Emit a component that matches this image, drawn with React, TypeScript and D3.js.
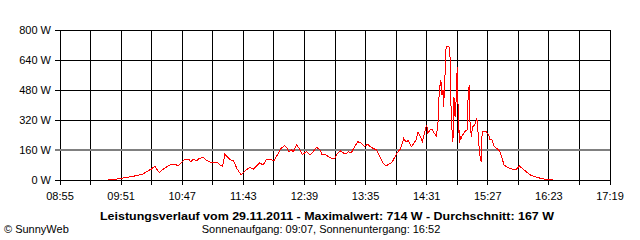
import React from "react";
import * as d3 from "d3";

const times: string[] = [
  "09:39","09:47","09:52","09:59","10:06","10:11","10:14","10:16","10:19","10:22",
  "10:24","10:26","10:28","10:31","10:34","10:37","10:41","10:43","10:46","10:49",
  "10:53","10:55","10:57","11:00","11:02","11:06","11:09","11:13","11:19","11:22",
  "11:24","11:26","11:29","11:32","11:34","11:37","11:41","11:42","11:45","11:49",
  "11:52","11:55","11:58","12:01","12:04","12:08","12:11","12:15","12:18","12:21",
  "12:23","12:25","12:27","12:29","12:31","12:32","12:35","12:37","12:41","12:44",
  "12:47","12:50","12:53","12:55","12:58","13:01","13:04","13:07","13:09","13:12",
  "13:14","13:17","13:19","13:22","13:25","13:28","13:31","13:34","13:37","13:39",
  "13:42","13:45","13:48","13:51","13:54","13:56","13:59","14:02","14:04","14:07",
  "14:10","14:12","14:14","14:17","14:21","14:23","14:26","14:27","14:29","14:31",
  "14:32","14:35","14:36","14:38","14:40","14:41","14:42","14:42","14:43","14:44",
  "14:45","14:46","14:46","14:47","14:48","14:48","14:49","14:51","14:52","14:52",
  "14:53","14:53","14:54","14:55","14:56","14:56","14:57","14:58","14:59","14:59",
  "15:00","15:01","15:01","15:02","15:03","15:05","15:06","15:08","15:09","15:10",
  "15:10","15:11","15:12","15:13","15:15","15:17","15:18","15:18","15:19","15:20",
  "15:21","15:21","15:22","15:25","15:28","15:29","15:30","15:31","15:33","15:35",
  "15:38","15:40","15:42","15:44","15:47","15:52","15:54","15:56","15:58","16:01",
  "16:04","16:07","16:10","16:13","16:17","16:19","16:27",
];

const watts: number[] = [
  3,5,10,17,24,32,44,50,59,75,
  55,40,50,64,74,84,84,75,92,110,
  110,96,112,102,112,121,107,94,96,78,
  72,137,119,104,103,62,27,32,50,68,
  57,75,92,80,107,110,101,142,172,183,
  170,151,160,151,178,187,160,137,151,133,
  151,174,164,137,137,124,116,116,139,155,
  146,139,151,146,178,204,196,178,192,178,
  169,160,124,89,75,84,92,124,146,165,
  222,202,210,178,210,255,222,204,249,295,
  252,272,272,249,233,287,347,418,495,533,
  453,480,391,444,587,658,711,714,702,690,
  604,444,284,201,373,444,338,427,604,551,
  347,196,267,213,231,249,258,267,444,507,
  382,284,231,284,293,329,276,262,178,124,
  95,178,258,261,240,213,220,213,178,169,
  155,116,80,71,62,53,62,75,65,50,
  36,23,20,12,8,5,4,
];

const xTickLabels: string[] = ["08:55","09:51","10:47","11:43","12:39","13:35","14:31","15:27","16:23","17:19"];
const yTicks: number[] = [0, 160, 320, 480, 640, 800];
const titleText = "Leistungsverlauf vom 29.11.2011 - Maximalwert: 714 W - Durchschnitt: 167 W";
const subtitleText = "Sonnenaufgang: 09:07, Sonnenuntergang: 16:52";
const creditText = "© SunnyWeb";

const toMin = (s: string) => {
  const [h, m] = s.split(":").map(Number);
  return h * 60 + m;
};

export default function App() {
  const startMin = toMin(xTickLabels[0]);
  const endMin = toMin(xTickLabels[xTickLabels.length - 1]);
  const x = d3.scaleLinear().domain([startMin, endMin]).range([60, 610]);
  const y = d3.scaleLinear().domain([0, 800]).range([180, 30]);
  const gridMins = d3.range(startMin, endMin + 1, 28);
  const data = times.map((t, i) => ({ t: toMin(t), v: watts[i] }));
  const line = d3
    .line<{ t: number; v: number }>()
    .x((d) => x(d.t))
    .y((d) => y(d.v));
  const font = "'Liberation Sans', Arial, sans-serif";
  return (
    <svg
      width={640}
      height={240}
      style={{ position: "absolute", left: 0, top: 0, background: "#fff" }}
      fontFamily={font}
    >
      <rect x={0} y={0} width={640} height={240} fill="#fff" />
      <g shapeRendering="crispEdges">
        {gridMins.map((m) => (
          <line key={"v" + m} x1={x(m)} x2={x(m)} y1={y(800)} y2={y(0) + 5} stroke="#000" strokeWidth={1} />
        ))}
        {yTicks.map((v) => (
          <line
            key={"h" + v}
            x1={x(startMin) - 5}
            x2={x(endMin)}
            y1={y(v)}
            y2={y(v)}
            stroke={v === 160 ? "#808080" : "#000"}
            strokeWidth={v === 160 ? 2 : 1}
          />
        ))}
      </g>
      <path d={line(data) || ""} fill="none" stroke="#ff0000" strokeWidth={1} shapeRendering="crispEdges" />
      {yTicks.map((v) => (
        <text key={"yl" + v} x={51} y={y(v)} dy="0.35em" textAnchor="end" fontSize={11} fill="#000">
          {v + " W"}
        </text>
      ))}
      {xTickLabels.map((l) => (
        <text key={"xl" + l} x={x(toMin(l))} y={200} textAnchor="middle" fontSize={11} fill="#000">
          {l}
        </text>
      ))}
      <text x={327} y={220} textAnchor="middle" fontSize={11.5} fontWeight="bold" fill="#000" textLength={454} lengthAdjust="spacingAndGlyphs">
        {titleText}
      </text>
      <text x={321} y={233} textAnchor="middle" fontSize={11} fill="#000">
        {subtitleText}
      </text>
      <text x={4} y={233} fontSize={11} fill="#000">
        {creditText}
      </text>
    </svg>
  );
}
